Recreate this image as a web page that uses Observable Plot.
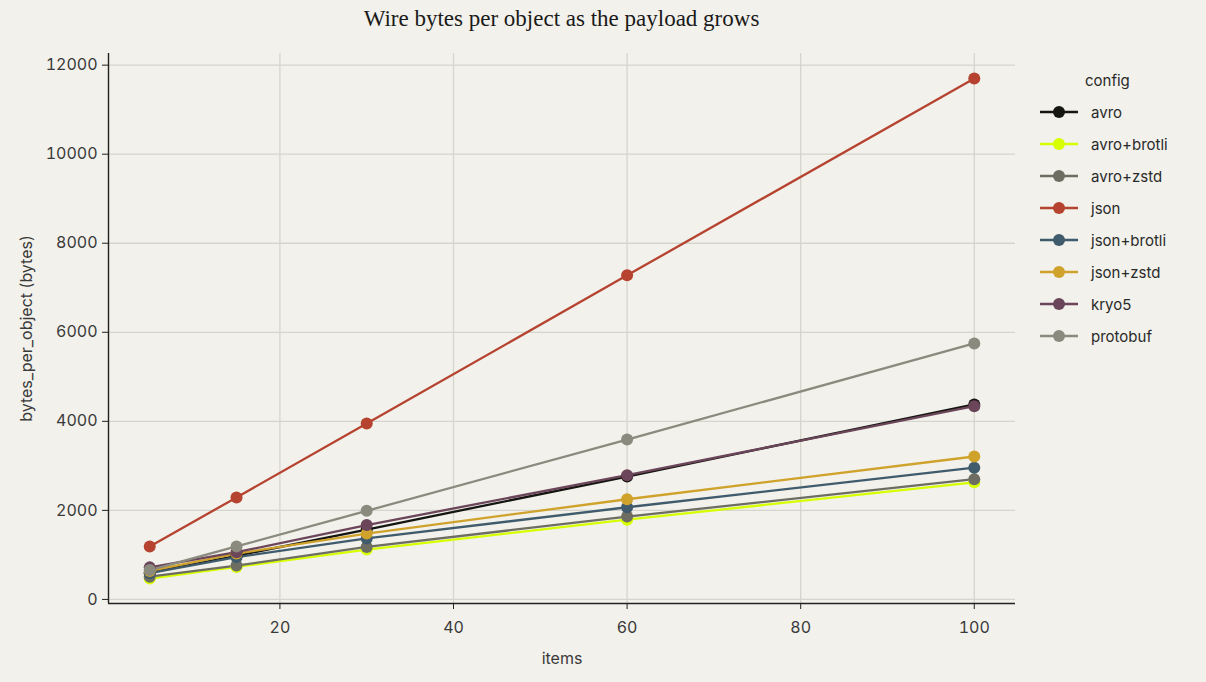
<!DOCTYPE html>
<html>
<head>
<meta charset="utf-8">
<script src="https://cdn.jsdelivr.net/npm/d3@7"></script>
<script src="https://cdn.jsdelivr.net/npm/@observablehq/plot@0.6"></script>
<style>
  html, body { margin: 0; padding: 0; background: #f2f1eb; }
  #wrap { position: relative; width: 1206px; height: 682px; background: #f2f1eb; overflow: hidden; }
  #title { position: absolute; left: 108px; width: 907px; top: 6px; text-align: center;
           font-family: "Liberation Serif", "DejaVu Serif", serif; font-size: 23px; color: #1a1a1a; }
  #chart { position: absolute; left: 0; top: 40px; }
  #legend { position: absolute; left: 1040px; top: 68px; font-family: Inter, "DejaVu Sans", sans-serif;
            font-size: 15px; color: #2a2a2a; }
  #legend .ttl { margin-left: 45px; height: 28px; line-height: 26px; }
  #legend .row { display: flex; align-items: center; height: 32px; }
  #legend svg { margin-right: 13px; }
</style>
</head>
<body>
<div id="wrap">
  <div id="title">Wire bytes per object as the payload grows</div>
  <div id="chart"></div>
  <div id="legend"></div>
</div>
<script>
const items = [5, 15, 30, 60, 100];
const configs = ["avro", "avro+brotli", "avro+zstd", "json", "json+brotli", "json+zstd", "kryo5", "protobuf"];
const avro        = [600, 980, 1570, 2760, 4380];
const avroBrotli  = [470, 730, 1120, 1790, 2630];
const avroZstd    = [510, 760, 1180, 1860, 2700];
const json        = [1190, 2290, 3950, 7280, 11700];
const jsonBrotli  = [590, 950, 1370, 2070, 2960];
const jsonZstd    = [640, 1030, 1480, 2250, 3210];
const kryo5       = [720, 1060, 1670, 2790, 4340];
const protobuf    = [660, 1190, 1990, 3590, 5750];
const colors = ["#151512", "#d8ff00", "#6e6d62", "#b5432f", "#3f5b6c", "#cfa22b", "#6b4559", "#8a8a7e"];
const yTicks = [0, 2000, 4000, 6000, 8000, 10000, 12000];
const xTicks = [20, 40, 60, 80, 100];

const series = [avro, avroBrotli, avroZstd, json, jsonBrotli, jsonZstd, kryo5, protobuf];
const data = [];
configs.forEach((c, i) => items.forEach((x, j) => data.push({config: c, items: x, bytes: series[i][j]})));

function expand(ext) { const r = ext[1] - ext[0]; return [ext[0] - 0.05 * r, ext[1] + 0.05 * r]; }
const xDom = expand(d3.extent(items));
const yDom = expand(d3.extent(data, d => d.bytes));

const font = "Inter, 'DejaVu Sans', sans-serif";
const fmt = d3.format("d");
const plot = Plot.plot({
  width: 1206,
  height: 642,
  marginTop: 13,
  marginBottom: 79,
  marginLeft: 108,
  marginRight: 191,
  style: { background: "transparent", fontFamily: font, fontSize: "16px", color: "#333" },
  x: { domain: xDom },
  y: { domain: yDom },
  color: { domain: configs, range: colors },
  marks: [
    Plot.gridX(xTicks, { stroke: "#d6d5cd", strokeOpacity: 1, strokeWidth: 1.3 }),
    Plot.gridY(yTicks, { stroke: "#d6d5cd", strokeOpacity: 1, strokeWidth: 1.3 }),
    Plot.axisX(xTicks, { tickSize: 6, tickPadding: 12, tickFormat: fmt, stroke: "#222", fill: "#3a3a3a", label: "items", labelAnchor: "center", labelArrow: "none", labelOffset: 60 }),
    Plot.axisY(yTicks, { tickSize: 6, tickPadding: 5, tickFormat: fmt, stroke: "#222", fill: "#3a3a3a", label: "bytes_per_object (bytes)", labelAnchor: "center", labelArrow: "none", labelOffset: 88 }),
    Plot.ruleX([xDom[0]], { stroke: "#222", strokeWidth: 1.4 }),
    Plot.ruleY([yDom[0]], { stroke: "#222", strokeWidth: 1.4 }),
    Plot.line(data, { x: "items", y: "bytes", z: "config", stroke: "config", strokeWidth: 2.3 }),
    Plot.dot(data, { x: "items", y: "bytes", fill: "config", r: 6 })
  ]
});
document.getElementById("chart").appendChild(plot);

const leg = document.getElementById("legend");
leg.innerHTML = '<div class="ttl">config</div>' + configs.map((c, i) =>
  `<div class="row"><svg width="38" height="16"><line x1="0" y1="8" x2="38" y2="8" stroke="${colors[i]}" stroke-width="2.5"/><circle cx="19" cy="8" r="6" fill="${colors[i]}"/></svg><span>${c}</span></div>`
).join("");
</script>
</body>
</html>
